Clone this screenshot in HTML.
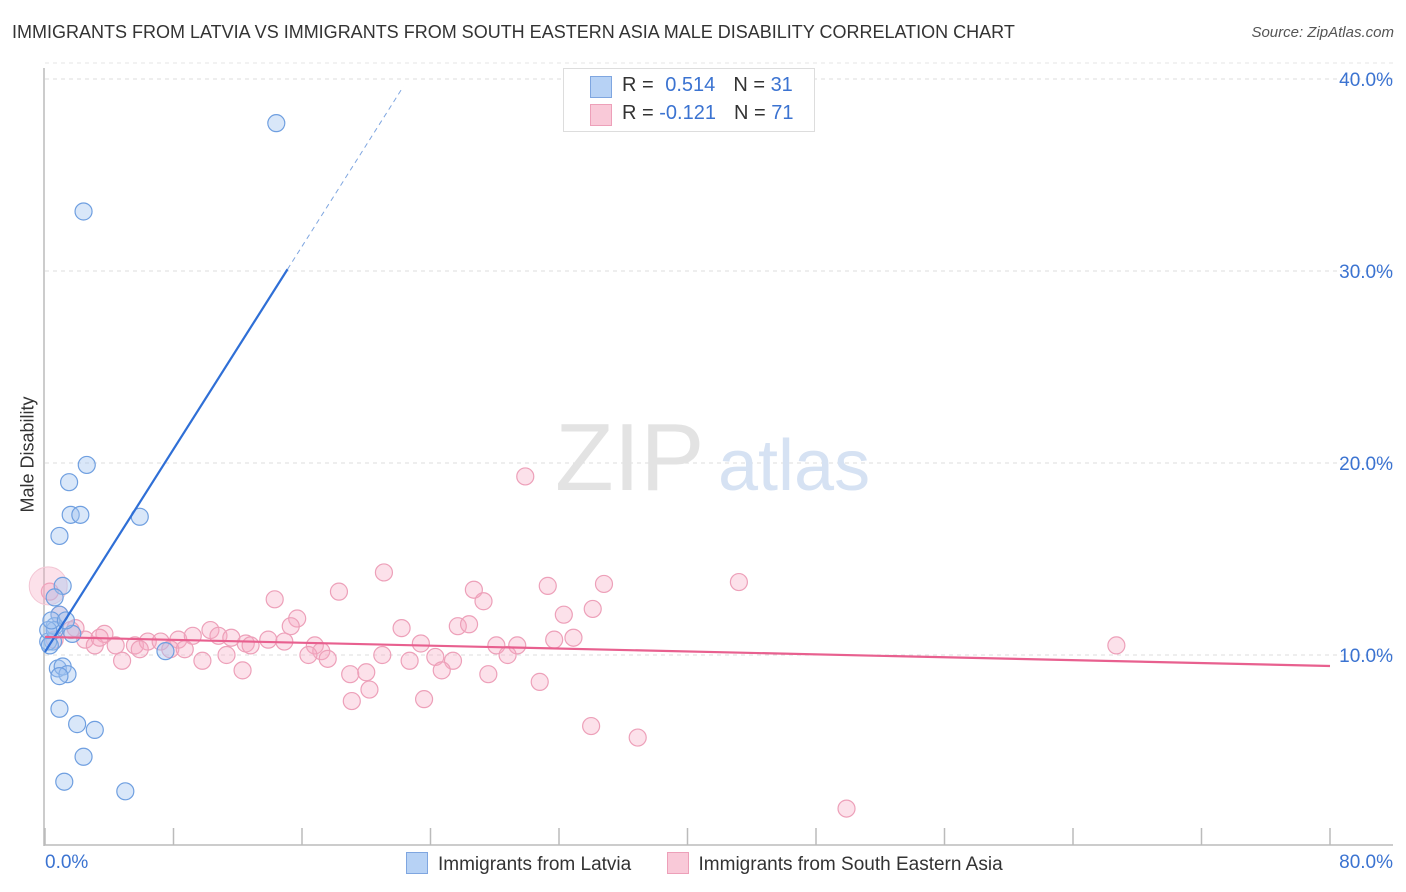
<!DOCTYPE html>
<html><head><meta charset="utf-8"><style>
body{margin:0;background:#fff;font-family:"Liberation Sans",sans-serif}
#wrap{position:relative;width:1406px;height:892px;overflow:hidden}
svg text{font-family:"Liberation Sans",sans-serif}
</style></head><body><div id="wrap">
<svg id="c" width="1406" height="892"></svg>
</div>
<script>
const blueX=[14.4,2.4,2.6,1.5,1.6,2.2,5.9,0.9,1.1,0.6,0.9,0.6,0.5,0.2,0.3,1.7,7.5,0.8,1.1,1.4,0.9,0.9,2.0,3.1,2.4,1.2,5.0,0.6,0.2,0.4,1.3];
const blueY=[37.7,33.1,19.9,19.0,17.3,17.3,17.2,16.2,13.6,13.0,12.1,11.5,10.7,10.7,10.5,11.1,10.2,9.3,9.4,9.0,8.9,7.2,6.4,6.1,4.7,3.4,2.9,11.3,11.3,11.8,11.8];
const pinkX=[29.9,21.1,43.2,34.8,31.3,26.7,18.3,14.3,27.3,34.1,32.3,15.7,25.7,22.2,15.3,10.3,26.4,32.9,31.7,29.4,28.1,23.4,3.7,1.9,2.5,3.1,4.4,5.6,6.4,7.2,8.3,9.2,10.8,11.6,12.5,13.9,14.9,12.8,16.8,17.2,16.4,17.6,21.0,22.7,24.3,25.4,24.7,27.6,28.8,19.0,20.0,20.2,19.1,30.8,23.6,9.8,12.3,4.8,11.3,66.7,34.0,36.9,49.9,0.3,0.9,1.6,0.6,7.8,8.7,5.9,3.4];
const pinkY=[19.3,14.3,13.8,13.7,13.6,13.4,13.3,12.9,12.8,12.4,12.1,11.9,11.5,11.4,11.5,11.3,11.6,10.9,10.8,10.5,10.5,10.6,11.1,11.4,10.8,10.5,10.5,10.5,10.7,10.7,10.8,11.0,11.0,10.9,10.6,10.8,10.7,10.5,10.5,10.2,10.0,9.8,10.0,9.7,9.9,9.7,9.2,9.0,10.0,9.0,9.1,8.2,7.6,8.6,7.7,9.7,9.2,9.7,10.0,10.5,6.3,5.7,2.0,13.3,12.1,11.3,10.8,10.3,10.3,10.3,10.9];
const yTicks=[10,20,30,40];
const yTickLabels=["10.0%","20.0%","30.0%","40.0%"];
const xTicks=[0,8,16,24,32,40,48,56,64,72,80];
const blueTrend=[10.16,1.32];
const pinkTrend=[10.94,-0.0189];
const NS="http://www.w3.org/2000/svg";
const svg=document.getElementById('c');
const X=v=>45+v*16.0625, Y=v=>847-v*19.2;
function mk(t,a,p){const e=document.createElementNS(NS,t);for(const k in a)e.setAttribute(k,a[k]);(p||svg).appendChild(e);return e;}
// grid
yTicks.forEach((t,i)=>{
 const g=mk('line',{x1:45,x2:1393,y1:Y(t),y2:Y(t),stroke:'#ddd','stroke-dasharray':'4,4'});
 
 
 const tx=mk('text',{x:1393,y:Y(t)+7,'text-anchor':'end','font-size':19,fill:'#3b73d1'});tx.textContent=yTickLabels[i];
 
 
});
mk('line',{x1:45,x2:1393,y1:Y(40)-16,y2:Y(40)-16,stroke:'#e4e4e4','stroke-dasharray':'4,4'});
mk('line',{x1:44,x2:44,y1:68,y2:846,stroke:'#bbb','stroke-width':1.5});
mk('line',{x1:44,x2:1393,y1:845,y2:845,stroke:'#bbb','stroke-width':1.5});
xTicks.forEach(t=>{const l=mk('line',{x1:X(t),x2:X(t),y1:828,y2:845,stroke:'#bbb','stroke-width':1.5});
 
 });
// watermark
const wm=mk('text',{x:555,y:490,'font-size':96,fill:'#e3e3e3','font-family':'Liberation Serif'});wm.textContent='ZIP';
const wm2=mk('text',{x:718,y:490,'font-size':72,fill:'#d6e2f3'});wm2.textContent='atlas';
// points
pinkX.forEach((v,i)=>{const c=mk('circle',{cx:X(v),cy:Y(pinkY[i]),r:8.5,fill:'rgba(246,170,195,0.35)',stroke:'#eda0b9','stroke-width':1.2});
 
 });
mk('circle',{cx:X(0.2),cy:Y(13.6),r:19,fill:'rgba(246,170,195,0.35)',stroke:'#f3c6d4'});
blueX.forEach((v,i)=>{const c=mk('circle',{cx:X(v),cy:Y(blueY[i]),r:8.5,fill:'rgba(160,195,240,0.4)',stroke:'#6f9fe0','stroke-width':1.2});
 
 });
// trends
const bl=mk('line',{x1:X(0),y1:Y(blueTrend[0]),x2:X(15.1),y2:Y(blueTrend[0]+blueTrend[1]*15.1),stroke:'#2f6fd6','stroke-width':2.2});


mk('line',{x1:X(15.1),y1:Y(blueTrend[0]+blueTrend[1]*15.1),x2:X(22.3),y2:Y(blueTrend[0]+blueTrend[1]*22.3),stroke:'#7fa6e0','stroke-width':1,'stroke-dasharray':'5,4'});
const pl=mk('line',{x1:X(0),y1:Y(pinkTrend[0]),x2:X(80),y2:Y(pinkTrend[0]+pinkTrend[1]*80),stroke:'#e8608f','stroke-width':2.2});


</script>
<div style="position:absolute;left:12px;top:22px;font-size:18px;color:#333">IMMIGRANTS FROM LATVIA VS IMMIGRANTS FROM SOUTH EASTERN ASIA MALE DISABILITY CORRELATION CHART</div>
<div style="position:absolute;right:12px;top:24px;font-size:15px;color:#555;font-style:italic">Source: ZipAtlas.com</div>
<div style="position:absolute;left:-32px;top:444px;width:120px;text-align:center;transform:rotate(-90deg);font-size:18px;color:#333">Male Disability</div>
<div style="position:absolute;left:45px;top:852px;font-size:19px;color:#3b73d1">0.0%</div>
<div style="position:absolute;right:13px;top:852px;font-size:19px;color:#3b73d1">80.0%</div>
<div style="position:absolute;left:563px;top:68px;width:250px;height:62px;border:1px solid #ddd;background:#fff;font-size:20px;color:#333">
 <div style="position:absolute;left:26px;top:7px;width:20px;height:20px;background:#b7d2f5;border:1px solid #7fa6e0"></div>
 <div style="position:absolute;left:58px;top:5px">R = <span style="color:#3b73d1;margin-left:6px">0.514</span><span style="margin-left:18px">N = </span><span style="color:#3b73d1">31</span></div>
 <div style="position:absolute;left:26px;top:35px;width:20px;height:20px;background:#f9c9d8;border:1px solid #eda0b9"></div>
 <div style="position:absolute;left:58px;top:33px">R = <span style="color:#3b73d1">-0.121</span><span style="margin-left:18px">N = </span><span style="color:#3b73d1">71</span></div>
</div>
<div style="position:absolute;left:406px;top:852px;font-size:19px;color:#333;white-space:nowrap">
 <span><span style="display:inline-block;width:20px;height:20px;background:#b7d2f5;border:1px solid #7fa6e0;vertical-align:-4px;margin-right:10px"></span>Immigrants from Latvia</span>
 <span style="margin-left:30px"><span style="display:inline-block;width:20px;height:20px;background:#f9c9d8;border:1px solid #eda0b9;vertical-align:-4px;margin-right:10px"></span>Immigrants from South Eastern Asia</span>
</div>
</body></html>
